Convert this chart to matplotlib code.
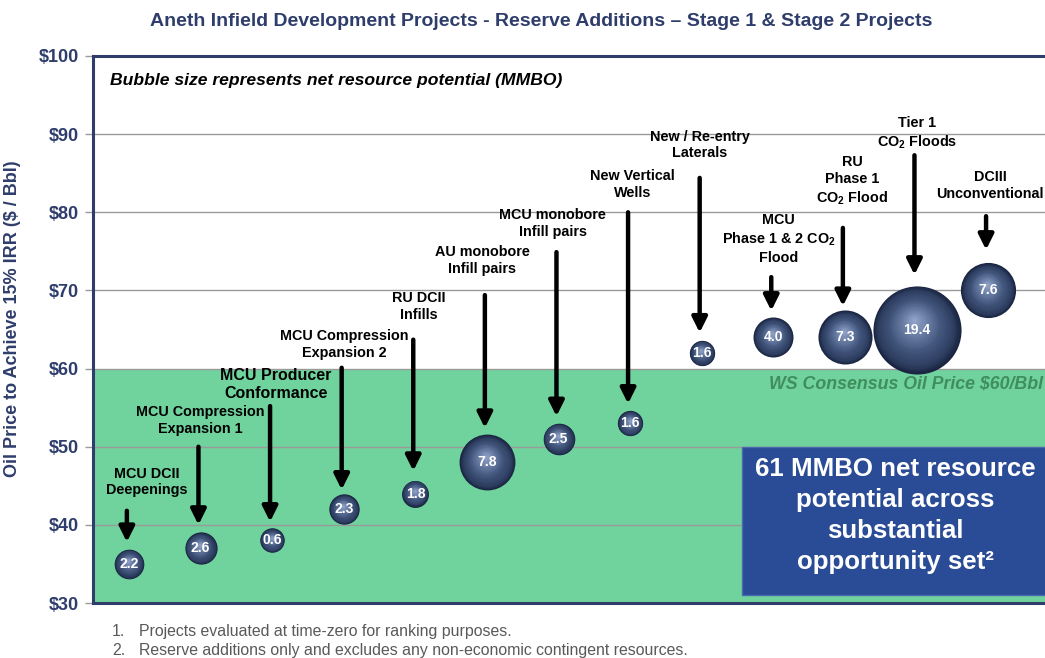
import numpy as np
import matplotlib
matplotlib.use("Agg")
import matplotlib.pyplot as plt
from matplotlib.transforms import offset_copy
from matplotlib.colors import LinearSegmentedColormap

plt.rcParams['font.family'] = ['Liberation Sans', 'DejaVu Sans']
plt.rcParams['mathtext.fontset'] = 'custom'
plt.rcParams['mathtext.rm'] = 'Liberation Sans:bold'
plt.rcParams['mathtext.bf'] = 'Liberation Sans:bold'

# data
projects = ['MCU DCII\nDeepenings', 'MCU Compression\nExpansion 1', 'MCU Producer\nConformance',
            'MCU Compression\nExpansion 2', 'RU DCII\nInfills', 'AU monobore\nInfill pairs',
            'MCU monobore\nInfill pairs', 'New Vertical\nWells', 'New / Re-entry\nLaterals',
            'MCU\nPhase 1 & 2 CO$_2$\nFlood', 'RU\nPhase 1\nCO$_2$ Flood', 'Tier 1\nCO$_2$ Floods',
            'DCIII\nUnconventional']
breakeven = [35, 37, 38, 42, 44, 48, 51, 53, 62, 64, 64, 65, 70]
mmbo = [2.2, 2.6, 0.6, 2.3, 1.8, 7.8, 2.5, 1.6, 1.6, 4.0, 7.3, 19.4, 7.6]
yticks = [30, 40, 50, 60, 70, 80, 90, 100]
consensus = 60
total_mmbo = 61

# annotation layout (label centre y, arrow top y, arrow tip y, label x shift)
label_y = [45.5, 53.4, 57.9, 63.1, 67.9, 73.8, 78.6, 83.6, 88.6, 76.6, 84.0, 90.1, 83.4]
arrow_top = [41.8, 50.0, 55.2, 60.1, 63.7, 69.4, 74.9, 80.0, 84.4, 71.7, 78.0, 87.3, 79.5]
arrow_tip = [37.8, 40.0, 40.4, 44.5, 46.9, 52.4, 53.9, 55.5, 64.6, 67.4, 68.0, 72.0, 75.2]
label_dx = [0.25, 0.0, 0.05, 0.0, 0.05, -0.07, -0.08, 0.03, -0.03, 0.07, 0.1, 0.0, 0.03]

navy = '#2e3d6b'
green = '#70d39d'

fig = plt.figure(figsize=(10.45, 6.58), dpi=100)
ax = fig.add_axes([93/1045, 1-603/658, 960/1045, (603-56)/658])

x = np.arange(1, len(mmbo) + 1)
ax.set_xlim(0.497, 0.497 + 960/71.6)
ax.set_ylim(30, 100)

ax.axhspan(30, consensus, color=green, zorder=0, lw=0)
for t in yticks[1:-1]:
    ax.axhline(t, color='#9a9a9a', lw=1, zorder=1)

# spheres: stacked circles, lighter towards an upper-left highlight
cmap = LinearSegmentedColormap.from_list(
    'sph', [(0, '#1a2541'), (0.12, '#2c3d60'), (0.4, '#42557b'), (0.7, '#6a7ea6'), (1, '#97a8cc')])
nlayers = 30
for xi, yi, v in zip(x, breakeven, mmbo):
    r = max(7.2 * np.sqrt(v), 8.8)  # radius in points
    for k in range(nlayers):
        f = 1 - k / nlayers
        tr = offset_copy(ax.transData, fig=fig, x=-0.06 * r * (1 - f),
                         y=0.22 * r * (1 - f), units='points')
        ax.scatter([xi], [yi], s=(2 * r * f) ** 2, color=cmap(k / nlayers),
                   lw=0, transform=tr, zorder=3 + k * 0.01)
    ax.text(xi, yi, f'{v:.1f}', color='white', fontsize=10, fontweight='bold',
            ha='center', va='center', zorder=5)

for i, (xi, lab) in enumerate(zip(x, projects)):
    fs = 11.5 if i == 2 else 10.4
    ax.text(xi + label_dx[i], label_y[i], lab, fontsize=fs, fontweight='bold',
            ha='center', va='center', linespacing=1.25, zorder=6)
    ax.annotate('', xy=(xi - 0.03, arrow_tip[i]), xytext=(xi - 0.03, arrow_top[i]),
                arrowprops=dict(arrowstyle='-|>,head_width=0.45,head_length=0.9',
                                color='black', lw=3.2, shrinkA=0, shrinkB=0), zorder=6)

ax.text(0.74, 96.9, 'Bubble size represents net resource potential (MMBO)', fontsize=12.6,
        fontweight='bold', style='italic', ha='left', va='center')
ax.text(13.76, 58.0, f'WS Consensus Oil Price ${consensus}/Bbl', fontsize=12.8,
        fontweight='bold', style='italic', color='#3f8e5c', ha='right', va='center', zorder=2)

# summary box
bx0 = ax.transData.inverted().transform(fig.transFigure.transform((742/1045, 0)))[0]
ax.add_patch(plt.Rectangle((bx0, 31.0), 20, 50.0 - 31.0, facecolor='#2a4b95',
                           edgecolor='#4a6ab0', lw=1, zorder=7))
ax.text(bx0 + 2.14, 41.2, f'{total_mmbo} MMBO net resource\npotential across\nsubstantial\nopportunity set²',
        color='white', fontsize=18.6, fontweight='bold', ha='center', va='center',
        linespacing=1.36, zorder=8)

ax.set_yticks(yticks)
ax.set_yticklabels([f'${t}' for t in yticks], fontsize=13, fontweight='bold', color=navy,
                   family=['Liberation Sans Narrow', 'Liberation Sans'])
ax.tick_params(axis='y', length=6, width=1, color='#9a9a9a', pad=4)
ax.set_xticks([])
ax.set_ylabel('Oil Price to Achieve 15% IRR ($ / Bbl)', fontsize=13, fontweight='bold', color=navy)
ax.yaxis.set_label_coords(-0.075, 0.52)
for side in ['left', 'bottom', 'top']:
    ax.spines[side].set_color(navy)
    ax.spines[side].set_linewidth(2.2)
    ax.spines[side].set_zorder(10)
ax.spines['right'].set_visible(False)

fig.text(541/1045, 1-21/658, 'Aneth Infield Development Projects - Reserve Additions \u2013 Stage 1 & Stage 2 Projects',
         fontsize=14, fontweight='bold', color=navy, ha='center', va='center',
         family=['Liberation Sans Narrow', 'Liberation Sans'])

foot = '#595959'
notes = ['Projects evaluated at time-zero for ranking purposes.',
         'Reserve additions only and excludes any non-economic contingent resources.']
for j, note in enumerate(notes):
    yb = 1 - (636 + 19 * j) / 658
    fig.text(112/1045, yb, f'{j + 1}.', fontsize=11.4, color=foot, va='baseline')
    fig.text(139/1045, yb, note, fontsize=11.4, color=foot, va='baseline')

fig.savefig('out.png', dpi=100)
